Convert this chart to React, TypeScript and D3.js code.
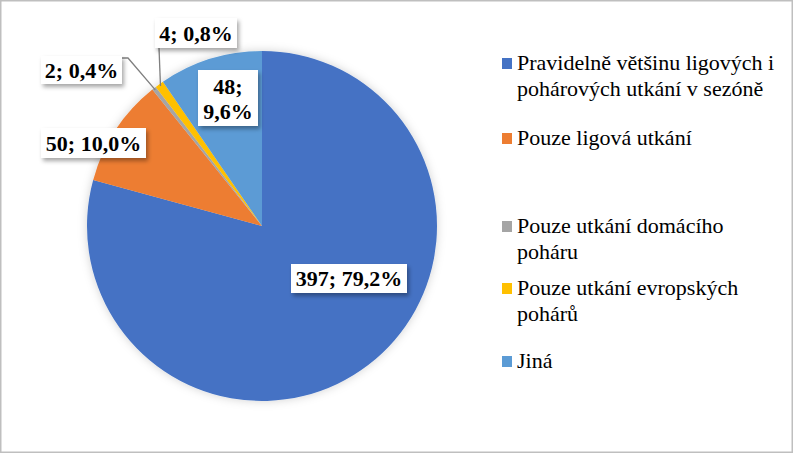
import React from "react";
import * as d3 from "d3";

const categories = [
  "Pravidelně většinu ligových i pohárových utkání v sezóně",
  "Pouze ligová utkání",
  "Pouze utkání domácího poháru",
  "Pouze utkání evropských pohárů",
  "Jiná",
];
const values = [397, 50, 2, 4, 48];
const percentLabels = ["79,2%", "10,0%", "0,4%", "0,8%", "9,6%"];
const colors = ["#4472C4", "#ED7D31", "#A5A5A5", "#FFC000", "#5B9BD5"];
const legendLines = [
  ["Pravidelně většinu ligových i", "pohárových utkání v sezóně"],
  ["Pouze ligová utkání"],
  ["Pouze utkání domácího", "poháru"],
  ["Pouze utkání evropských", "pohárů"],
  ["Jiná"],
];

// layout
const W = 794;
const H = 454;
const CX = 262;
const CY = 226;
const R = 175;
const legendY = [70, 145, 233, 295, 368];
const labelBoxes = [
  { cx: 349, cy: 278.5, w: 116, h: 29, lines: 1 },
  { cx: 93.5, cy: 143, w: 105, h: 30, lines: 1 },
  { cx: 81.5, cy: 70, w: 81, h: 28, lines: 1 },
  { cx: 196, cy: 33, w: 82, h: 30, lines: 1 },
  { cx: 228, cy: 98, w: 60, h: 56, lines: 2 },
];

const FONT = "Liberation Serif";

export default function App() {
  const pie = d3.pie<number>().sort(null).value((d) => d);
  const arcs = pie(values);
  const arc = d3.arc<d3.PieArcDatum<number>>().innerRadius(0).outerRadius(R);
  const edgeArc = d3.arc<d3.PieArcDatum<number>>().innerRadius(R - 2).outerRadius(R - 2);

  const edge2 = edgeArc.centroid(arcs[2]);
  const edge3 = edgeArc.centroid(arcs[3]);

  return (
    <svg
      width={W}
      height={H}
      style={{ position: "absolute", left: 0, top: 0, background: "#fff" }}
      fontFamily={FONT}
    >
      <defs>
        <filter id="boxShadow" x="-20%" y="-20%" width="150%" height="170%">
          <feDropShadow dx="2" dy="3" stdDeviation="2" floodColor="#000" floodOpacity="0.35" />
        </filter>
        <filter id="pieShadow" x="-10%" y="-10%" width="120%" height="120%">
          <feDropShadow dx="0" dy="0" stdDeviation="5" floodColor="#000" floodOpacity="0.18" />
        </filter>
      </defs>
      <rect x={0.75} y={0.75} width={W - 2.5} height={H - 2.5} fill="#fff" stroke="#bfbfbf" strokeWidth={1.5} />

      <g transform={`translate(${CX},${CY})`} filter="url(#pieShadow)">
        {arcs.map((a, i) => (
          <path key={i} d={arc(a) || ""} fill={colors[i]} />
        ))}
      </g>

      {/* leader lines */}
      <polyline
        points={`122,58 128,58 ${CX + edge2[0]},${CY + edge2[1]}`}
        fill="none"
        stroke="#7f7f7f"
        strokeWidth={1.3}
      />
      <polyline
        points={`159,48 ${CX + edge3[0]},${CY + edge3[1]}`}
        fill="none"
        stroke="#7f7f7f"
        strokeWidth={1.3}
      />

      {labelBoxes.map((b, i) => (
        <g key={i}>
          <rect
            x={b.cx - b.w / 2}
            y={b.cy - b.h / 2}
            width={b.w}
            height={b.h}
            fill="#fff"
            filter="url(#boxShadow)"
          />
          {b.lines === 1 ? (
            <text
              x={b.cx}
              y={b.cy + 7.5}
              textAnchor="middle"
              fontFamily={FONT}
              fontSize={22}
              fontWeight="bold"
              fill="#000"
            >
              {`${values[i]}; ${percentLabels[i]}`}
            </text>
          ) : (
            <text textAnchor="middle" fontFamily={FONT} fontSize={22} fontWeight="bold" fill="#000">
              <tspan x={b.cx} y={b.cy - 4}>{`${values[i]};`}</tspan>
              <tspan x={b.cx} y={b.cy + 21}>{percentLabels[i]}</tspan>
            </text>
          )}
        </g>
      ))}

      {legendLines.map((lines, i) => (
        <g key={i}>
          <rect x={502} y={legendY[i] - 12} width={10} height={11} fill={colors[i]} />
          <text fontFamily={FONT} fontSize={22} fill="#000">
            {lines.map((l, j) => (
              <tspan key={j} x={517} y={legendY[i] + j * 26}>
                {l}
              </tspan>
            ))}
          </text>
        </g>
      ))}
    </svg>
  );
}
